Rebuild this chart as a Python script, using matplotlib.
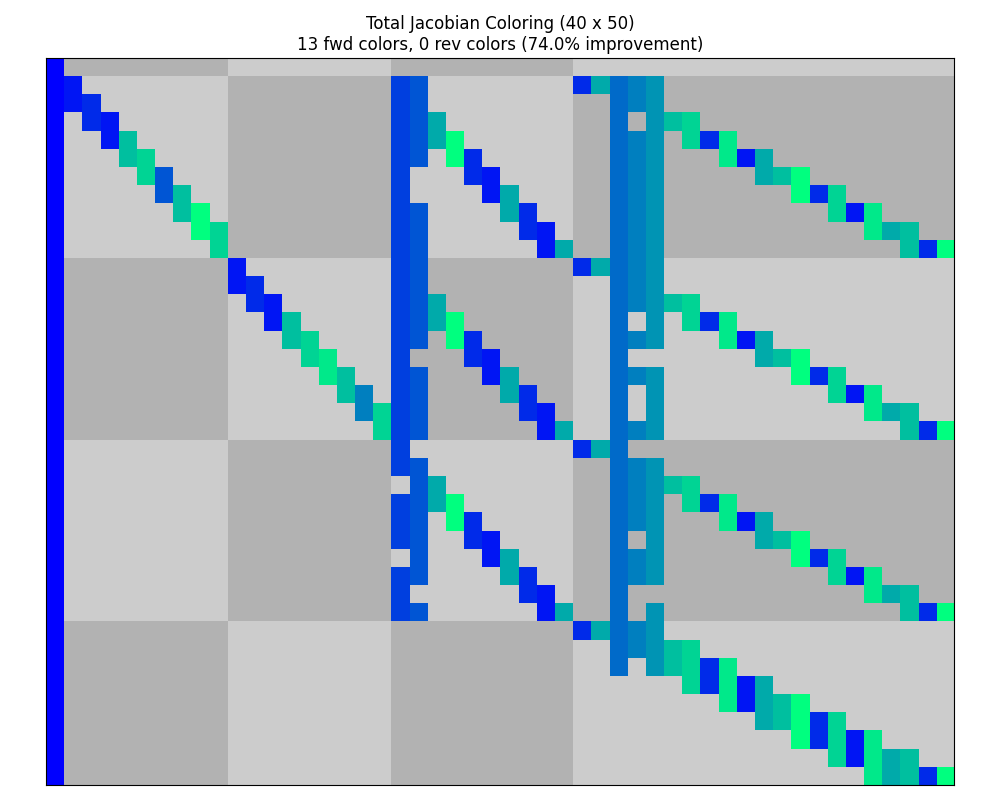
import matplotlib
matplotlib.use('Agg')
import matplotlib.pyplot as plt
import numpy as np

n_rows = 40
n_cols = 50

# variable sizes (used for the checkerboard background)
row_var_sizes = [1, 10, 10, 10, 9]
col_var_sizes = [1, 9, 9, 10, 21]

# fwd color index of every column
col_colors = [0, 1, 2, 1, 9, 10, 4, 9, 12, 10,
              1, 2, 1, 9, 10, 11, 9, 6, 10, 3,
              4, 8, 12, 2, 1, 8, 2, 1, 8, 2,
              8, 5, 6, 7, 9, 10, 2, 11, 1, 8,
              9, 12, 2, 10, 1, 11, 8, 9, 2, 12]

# nonzero rows of every column
nz_rows = [
    list(range(40)),
    [1, 2], [2, 3], [3, 4], [4, 5], [5, 6], [6, 7], [7, 8], [8, 9], [9, 10],
    [11, 12], [12, 13], [13, 14], [14, 15], [15, 16], [16, 17], [17, 18], [18, 19], [19, 20],
    [1, 2, 3, 4, 5, 6, 7, 8, 9, 10, 11, 12, 13, 14, 15, 16, 17, 18, 19, 20,
     21, 22, 24, 25, 26, 28, 29, 30],
    [1, 2, 3, 4, 5, 8, 9, 10, 11, 12, 13, 14, 15, 17, 18, 19, 20,
     22, 23, 24, 25, 26, 27, 28, 30],
    [3, 4, 13, 14, 23, 24],
    [4, 5, 14, 15, 24, 25],
    [5, 6, 15, 16, 25, 26],
    [6, 7, 16, 17, 26, 27],
    [7, 8, 17, 18, 27, 28],
    [8, 9, 18, 19, 28, 29],
    [9, 10, 19, 20, 29, 30],
    [10, 20, 30],
    [1, 11, 21, 31],
    [1, 11, 21, 31],
    list(range(1, 34)),
    [1, 2, 4, 5, 6, 7, 8, 9, 10, 11, 12, 13, 15, 17, 20,
     22, 23, 24, 25, 27, 28, 31, 32],
    [1, 2, 3, 4, 5, 6, 7, 8, 9, 10, 11, 12, 13, 14, 15, 17, 18, 19, 20,
     22, 23, 24, 25, 26, 27, 28, 30, 31, 32, 33],
    [3, 13, 23, 32, 33],
    [3, 4, 13, 14, 23, 24, 32, 33, 34],
    [4, 14, 24, 33, 34],
    [4, 5, 14, 15, 24, 25, 33, 34, 35],
    [5, 15, 25, 34, 35],
    [5, 6, 15, 16, 25, 26, 34, 35, 36],
    [6, 16, 26, 35, 36],
    [6, 7, 16, 17, 26, 27, 35, 36, 37],
    [7, 17, 27, 36, 37],
    [7, 8, 17, 18, 27, 28, 36, 37, 38],
    [8, 18, 28, 37, 38],
    [8, 9, 18, 19, 28, 29, 37, 38, 39],
    [9, 19, 29, 38, 39],
    [9, 10, 19, 20, 29, 30, 38, 39],
    [10, 20, 30, 39],
    [10, 20, 30, 39],
]

fwd_solves = 13
rev_solves = 0

J = np.ones((n_rows, n_cols, 3))

# checkerboard background for the variable blocks
bg = [(.7, .7, .7), (.8, .8, .8)]
r0 = 0
for i, rs in enumerate(row_var_sizes):
    c0 = 0
    for j, cs in enumerate(col_var_sizes):
        J[r0:r0 + rs, c0:c0 + cs] = bg[(i + j + 1) % 2]
        c0 += cs
    r0 += rs

cmap = matplotlib.colormaps['winter'].resampled(fwd_solves)
for col, rows in enumerate(nz_rows):
    J[rows, col] = cmap(col_colors[col])[:3]

pct = (1 - (fwd_solves + rev_solves) / n_cols) * 100

fig = plt.figure(figsize=(10, 8), dpi=100)
ax = fig.add_axes([0.046, 0.019, 0.908, 0.9085])
ax.imshow(J, interpolation='none', aspect='auto')
ax.set_xticks([])
ax.set_yticks([])
ax.set_title(f"Total Jacobian Coloring ({n_rows} x {n_cols})\n"
             f"{fwd_solves} fwd colors, {rev_solves} rev colors ({pct:.1f}% improvement)",
             fontsize=12)

fig.savefig('out.png')
